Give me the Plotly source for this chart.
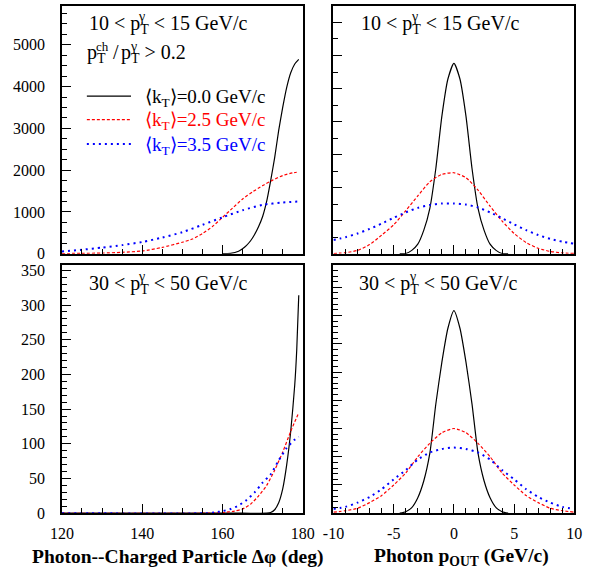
import plotly.graph_objects as go

# ---------------- data ----------------
# Photon--charged particle azimuthal correlation, 10 < pT(gamma) < 15 GeV/c
dphi_lo_k00 = [160, 162, 164, 165, 166, 167, 168, 169, 170, 171, 172, 173, 174, 175, 176, 177, 178, 179]
dn_lo_k00 = [0, 8, 60, 120, 200, 310, 460, 650, 890, 1250, 1750, 2300, 2950, 3500, 3980, 4330, 4540, 4650]

dphi_lo_k25 = [120, 125, 130, 135, 140, 145, 150, 152.5, 155, 157.5, 160, 162.5, 165, 167.5, 170, 172.5, 175, 177.5, 178.5]
dn_lo_k25 = [3, 8, 15, 32, 65, 150, 275, 350, 480, 650, 870, 1090, 1310, 1480, 1630, 1760, 1870, 1935, 1950]

dphi_lo_k35 = [120, 125, 130, 135, 140, 145, 150, 155, 160, 165, 170, 175, 179]
dn_lo_k35 = [55, 95, 145, 205, 280, 385, 515, 690, 870, 1040, 1170, 1225, 1250]

# 30 < pT(gamma) < 50 GeV/c
dphi_hi_k00 = [120, 165, 171, 172, 173, 174, 175, 176, 177, 178, 178.5, 179]
dn_hi_k00 = [0, 0, 0, 1, 5, 15, 35, 70, 118, 185, 236, 314]

dphi_hi_k25 = [120, 155, 160, 163, 165, 167, 169, 171, 173, 175, 177, 179]
dn_hi_k25 = [0, 0, 1, 3, 6, 13, 25, 40, 62, 88, 118, 145]

dphi_hi_k35 = [120, 156, 158, 160, 162, 164, 166, 168, 170, 172, 174, 176, 178, 179]
dn_hi_k35 = [0, 0, 1, 3, 6, 11, 19, 30, 44, 56, 76, 94, 106, 110]

# Photon pOUT distributions
pout_narrow = [-4.5, -4, -3.5, -3, -2.5, -2, -1.5, -1, -0.5, 0, 0.5, 1, 1.5, 2, 2.5, 3, 3.5, 4, 4.5]
pout_wide = [-10, -9, -8, -7, -6, -5, -4, -3, -2, -1, 0, 1, 2, 3, 4, 5, 6, 7, 8, 9, 10]

pout_lo_k00 = [0, 5, 80, 230, 570, 1100, 2070, 3330, 4230, 4610, 4230, 3330, 2070, 1100, 570, 230, 80, 5, 0]
pout_lo_k25 = [5, 25, 80, 220, 450, 700, 1040, 1400, 1740, 1920, 1960, 1840, 1540, 1150, 790, 490, 270, 130, 55, 20, 5]
pout_lo_k35 = [330, 400, 490, 600, 730, 870, 1000, 1110, 1180, 1215, 1215, 1190, 1120, 1000, 860, 710, 570, 450, 360, 290, 240]

pout_hi_k00 = [0, 2, 8, 22, 46, 85, 155, 214, 262, 287, 262, 214, 155, 85, 46, 22, 8, 2, 0]
pout_hi_k25 = [1.5, 3.5, 7, 15, 25, 40, 57, 80, 99, 114, 120, 114, 99, 80, 57, 40, 25, 15, 7, 3.5, 1.5]
pout_hi_k35 = [6, 9, 15, 23, 34, 48, 61, 76, 86, 91, 93, 91, 86, 76, 61, 48, 34, 23, 15, 9, 6]

# tick labels
dphi_ticks = [120, 140, 160, 180]
dphi_ticktext = ["120", "140", "160", "180"]
pout_ticks = [-10, -5, 0, 5, 10]
pout_ticktext = ["-10", "-5", "0", "5", "10"]

kt_labels = ["0.0", "2.5", "3.5"]
kt_colors = ["black", "#ff0000", "#0000ff"]

# ---------------- styling ----------------
FONT = "Liberation Serif"
line_styles = [
    dict(color=kt_colors[0], width=1.2),
    dict(color=kt_colors[1], width=1.2, dash="3px,2px"),
    dict(color=kt_colors[2], width=2, dash="2px,4px"),
]

fig = go.Figure()


def add_curve(x, y, idx, xa, ya):
    fig.add_trace(go.Scatter(
        x=x, y=y, mode="lines", xaxis=xa, yaxis=ya,
        line=dict(shape="spline", smoothing=0.6, **line_styles[idx]),
        name=f"<k_T>={kt_labels[idx]} GeV/c",
        showlegend=False, hoverinfo="skip",
    ))


# top-left: delta phi, low pT
add_curve(dphi_lo_k00, dn_lo_k00, 0, "x", "y")
add_curve(dphi_lo_k25, dn_lo_k25, 1, "x", "y")
add_curve(dphi_lo_k35, dn_lo_k35, 2, "x", "y")
# top-right: pOUT, low pT
add_curve(pout_narrow, pout_lo_k00, 0, "x2", "y2")
add_curve(pout_wide, pout_lo_k25, 1, "x2", "y2")
add_curve(pout_wide, pout_lo_k35, 2, "x2", "y2")
# bottom-left: delta phi, high pT
add_curve(dphi_hi_k00, dn_hi_k00, 0, "x3", "y3")
add_curve(dphi_hi_k25, dn_hi_k25, 1, "x3", "y3")
add_curve(dphi_hi_k35, dn_hi_k35, 2, "x3", "y3")
# bottom-right: pOUT, high pT
add_curve(pout_narrow, pout_hi_k00, 0, "x4", "y4")
add_curve(pout_wide, pout_hi_k25, 1, "x4", "y4")
add_curve(pout_wide, pout_hi_k35, 2, "x4", "y4")

W, H = 595, 579
dom_x_left = [52 / W, 303 / W]
dom_x_right = [335 / W, 586 / W]
dom_y_top = [1 - 256 / H, 1 - 3 / H]
dom_y_bot = [1 - 521 / H, 1 - 268 / H]


def axis(domain, rng, dtick, minor_dtick, labels, anchor, standoff, vals=None, text=None):
    ax = dict(
        domain=domain, range=rng, anchor=anchor,
        tickmode="linear", tick0=0, dtick=dtick,
        ticks="inside", ticklen=9, tickwidth=1, tickcolor="black",
        minor=dict(tickmode="linear", dtick=minor_dtick, tick0=0, ticks="inside",
                   ticklen=5, tickwidth=1, tickcolor="black", showgrid=False),
        showline=True, linecolor="black", linewidth=1.5, mirror=True,
        showgrid=False, zeroline=False, showticklabels=labels,
        ticklabelstandoff=standoff,
        tickfont=dict(family=FONT, size=16, color="black"),
        fixedrange=True,
    )
    if vals is not None:
        ax.update(tickmode="array", tickvals=vals, ticktext=text)
    return ax


fig.update_layout(
    width=W, height=H,
    margin=dict(l=0, r=0, t=0, b=0),
    paper_bgcolor="white", plot_bgcolor="white",
    font=dict(family=FONT, color="black"),
    showlegend=False,
    xaxis=axis(dom_x_left, [120, 180], 20, 5, False, "y", 4),
    yaxis=axis(dom_y_top, [0, 5930], 1000, 250, True, "x", 12),
    xaxis2=axis(dom_x_right, [-10, 10], 5, 1, False, "y2", 4),
    yaxis2=axis(dom_y_top, [0, 6000], 800, 400, False, "x2", 12),
    xaxis3=axis(dom_x_left, [120, 180], 20, 5, True, "y3", 5, dphi_ticks, dphi_ticktext),
    yaxis3=axis(dom_y_bot, [0, 357], 50, 10, True, "x3", 12),
    xaxis4=axis(dom_x_right, [-10, 10], 5, 1, True, "y4", 5, pout_ticks, pout_ticktext),
    yaxis4=axis(dom_y_bot, [0, 351], 40, 8, False, "x4", 12),
)


def text_at(px, py, t, size, color="black", xanchor="left"):
    fig.add_annotation(x=px / W, y=1 - py / H, xref="paper", yref="paper",
                       xanchor=xanchor, yanchor="middle", text=t, showarrow=False,
                       font=dict(family=FONT, size=size, color=color))


# panel labels with stacked sub/superscripts on p_T
SZ = 20
for x0, y0, lo, hi in [(78, 22, "10", "15"), (362, 22, "10", "15"),
                       (78, 287, "30", "50"), (360, 287, "30", "50")]:
    text_at(x0, y0, f"{lo} &lt; p<sub>T</sub> &lt; {hi} GeV/c", SZ)
    text_at(x0 + 51.3, y0 - 8, "γ", 14)

# p_T^ch / p_T^gamma > 0.2, built from pieces so the superscripts stack
text_at(76, 52, "p<sub>T</sub>", SZ)
text_at(85.5, 44, "ch", 13)
text_at(103, 50, "/", SZ)
text_at(111, 52, "p<sub>T</sub> &gt; 0.2", SZ)
text_at(120.5, 44, "γ", 14)

# legend
leg_y = [95, 119, 144]
for i in range(3):
    ls = line_styles[i]
    fig.add_shape(type="line", xref="paper", yref="paper",
                  x0=78 / W, x1=124 / W, y0=1 - leg_y[i] / H, y1=1 - leg_y[i] / H,
                  line=dict(color=ls["color"], width=ls["width"], dash=ls.get("dash", "solid")))
    text_at(137, leg_y[i] + 2, f"⟨k<sub>T</sub>⟩={kt_labels[i]} GeV/c", 19, kt_colors[i])

# axis titles
text_at(172, 566, "<b>Photon--Charged Particle Δφ (deg)</b>", 19.5, xanchor="center")
text_at(468, 566, "<b>Photon p<sub>OUT</sub> (GeV/c)</b>", 19.5, xanchor="center")

fig.write_html("out.html")
